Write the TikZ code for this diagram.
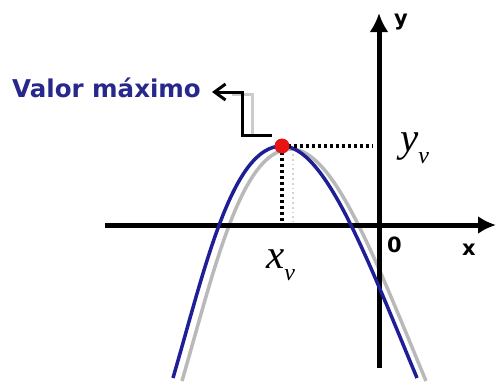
\documentclass[tikz,border=0pt]{standalone}
\usepackage{fontspec}
\newfontfamily\labelfont{DejaVu Sans}
\newfontfamily\varfont{Liberation Serif}
\usepackage{tikz}
\usetikzlibrary{arrows.meta}
\definecolor{curveblue}{RGB}{30,30,150}
\definecolor{labelblue}{RGB}{40,40,140}
\definecolor{vertexred}{RGB}{232,20,20}

\tikzset{
  axisline/.style={line width=5pt},
  curveline/.style={line width=3.5pt, line join=round},
  guideline/.style={line width=3.2pt, dash pattern=on 3pt off 3pt},
  axislbl/.style={font=\labelfont\bfseries\fontsize{21}{24}\selectfont, inner sep=0pt},
  varlbl/.style={font=\varfont\itshape\fontsize{41}{44}\selectfont, inner sep=0pt}
}

\begin{document}
\begin{tikzpicture}[x=1pt,y=-1pt]
\useasboundingbox (0,0) rectangle (496,383);

% axes
\coordinate (xleft) at (105,225);
\coordinate (xright) at (496,225);
\coordinate (ybottom) at (379,368);
\coordinate (ytop) at (379,13);
\coordinate (vtx) at (282,146);
\coordinate (xfoot) at (282,223);
\coordinate (yfoot) at (373,146);

% shadow curve
\draw[curveline, gray!55, shift={(9,3)}] (173,378) .. controls (205,268) and (232,146) .. (282,146)
  .. controls (325,146) and (367,258) .. (417,378);
\draw[line width=1.8pt, gray!35, dash pattern=on 1.8pt off 3pt] (293,154) -- (293,222);

\draw[axisline, -{Latex[length=18pt,width=18pt]}] (xleft) -- (xright);
\draw[axisline, -{Latex[length=19pt,width=19pt]}] (ybottom) -- (ytop);

% parabola
\draw[curveline, curveblue] (173,378) .. controls (205,268) and (232,146) .. (vtx)
  .. controls (325,146) and (367,258) .. (417,378);

% vertex guides
\draw[guideline] (vtx) -- (xfoot);
\draw[guideline] (vtx) -- (yfoot);
\fill[vertexred] (vtx) circle (7.5pt);

% labels
\node[axislbl, anchor=base west] (ylbl) at (394,25) {y};
\node[axislbl, anchor=base west] (xlbl) at (462,255) {x};
\node[axislbl, anchor=base west] (zero) at (387,252) {0};
\node[varlbl, anchor=base west] (yv) at (400,151) {y\raisebox{-12pt}{\fontsize{24}{24}\selectfont v}};
\node[varlbl, anchor=base west] (xv) at (266,268) {x\raisebox{-12pt}{\fontsize{24}{24}\selectfont v}};

% callout
\node[font=\labelfont\bfseries\fontsize{24.5}{28}\selectfont, text=labelblue, anchor=base west, inner sep=0pt]
  (maxlbl) at (12,97) {Valor máximo};
\coordinate (callhead) at (212,92);
\coordinate (calltail) at (272,135);
\begin{scope}[shift={(10,2)}]
\draw[line width=3pt, gray!40] (calltail) -| (242,92) -- (222,92);
\end{scope}
\draw[line width=3pt, -{Straight Barb[length=11pt,width=16pt]}] (calltail) -| (242,92) -- (callhead);
\end{tikzpicture}
\end{document}
